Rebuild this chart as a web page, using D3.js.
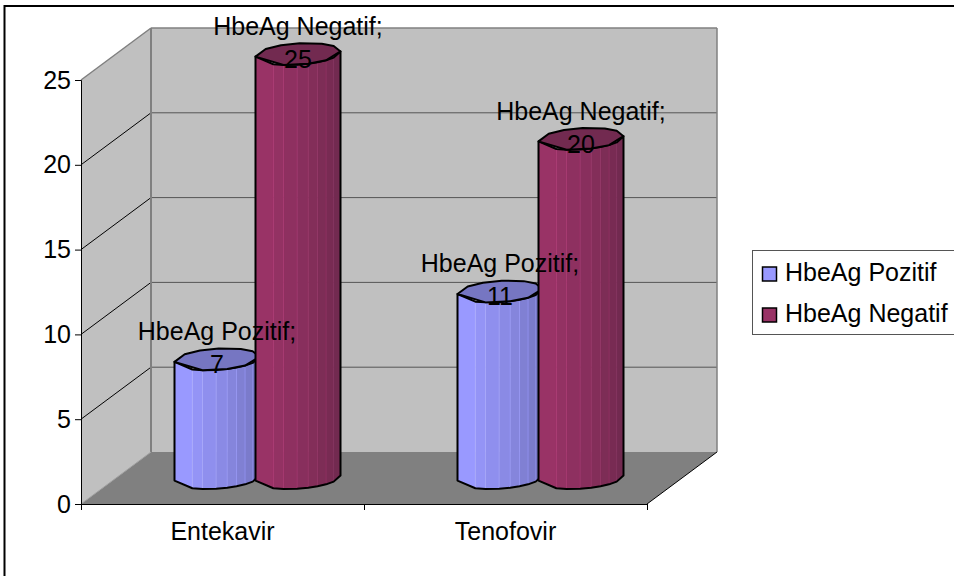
<!DOCTYPE html>
<html><head><meta charset="utf-8">
<script src="https://cdn.jsdelivr.net/npm/d3@7"></script>
<style>html,body{margin:0;padding:0;background:#fff;overflow:hidden}svg{display:block}text{font-family:"Liberation Sans",Arial,sans-serif;fill:#000}</style>
</head><body><svg id="c" width="954" height="576"></svg>
<script>
const categories = ["Entekavir", "Tenofovir"];
const seriesNames = ["HbeAg Pozitif", "HbeAg Negatif"];
const pozitif = [7, 11];
const negatif = [25, 20];
const yTicks = [0, 5, 10, 15, 20, 25];
const seriesColors = ["#9999ff", "#993366"];
const seriesDark = ["#7676c2", "#722a50"];

const svg = d3.select("#c");
const FS = 25;
const frontL = 81, frontR = 647, dx = 70, dy = 52;
const y = d3.scaleLinear().domain([0, 25]).range([504, 80]);
const x0 = d3.scaleBand().domain(categories).range([frontL, frontR]);

svg.append("rect").attr("x", 4.5).attr("y", 6).attr("width", 980).attr("height", 600).attr("fill", "#fff").attr("stroke", "#000").attr("stroke-width", 2);

const top0 = y(25), base = y(0);
const poly = (pts, fill) => svg.append("polygon").attr("points", pts.map(p => p.join(",")).join(" ")).attr("fill", fill).attr("stroke", "none");
poly([[frontL + dx, top0 - dy], [frontR + dx, top0 - dy], [frontR + dx, base - dy], [frontL + dx, base - dy]], "#c0c0c0");
poly([[frontL, top0], [frontL + dx, top0 - dy], [frontL + dx, base - dy], [frontL, base]], "#c0c0c0");
poly([[frontL, base], [frontL + dx, base - dy], [frontR + dx, base - dy], [frontR, base]], "#808080");

const ln = (a, b, c, w) => svg.append("line").attr("x1", a[0]).attr("y1", a[1]).attr("x2", b[0]).attr("y2", b[1]).attr("stroke", c).attr("stroke-width", w);
yTicks.forEach(t => {
  const v = y(t);
  if (t > 0 && t < 25) {
    ln([frontL + dx, v - dy], [frontR + dx, v - dy], "#555", 1);
    ln([frontL, v], [frontL + dx, v - dy], "#000", 1);
  }
});
ln([frontL + dx, top0 - dy], [frontR + dx, top0 - dy], "#808080", 1.5);
ln([frontL, top0], [frontL + dx, top0 - dy], "#808080", 1.5);
ln([frontL + dx, top0 - dy], [frontL + dx, base - dy], "#808080", 2);
ln([frontR + dx, top0 - dy], [frontR + dx, base - dy], "#808080", 1.5);
ln([frontL, base], [frontL + dx, base - dy], "#a0a0a0", 1);
ln([frontR, base], [frontR + dx, base - dy], "#000", 1);

// axes
const yAxis = d3.axisLeft(y).tickValues(yTicks).tickSize(6).tickPadding(3);
const gy = svg.append("g").attr("transform", `translate(${frontL},0)`).call(yAxis);
gy.select(".domain").attr("stroke", "#000");
gy.selectAll("text").attr("font-size", FS).attr("dx", -1).style("font-family", '"Liberation Sans",Arial,sans-serif');
ln([frontL, base + .5], [frontR, base + .5], "#000", 1.2);
[frontL, (frontL + frontR) / 2, frontR].forEach(px => ln([Math.round(px) + .5, base], [Math.round(px) + .5, base + 6], "#000", 1));
categories.forEach(c => svg.append("text").attr("x", x0(c) + x0.bandwidth() / 2).attr("y", 540).attr("text-anchor", "middle").attr("font-size", FS).text(c));

// cylinders
const R = 42.5, skew = 10, minor = 11, off = 40.5;
const facetStops = [0, .21, .33, .49, .62, .73, .83, .92, 1];
const cyl = (cx, v, si) => {
  const cy = y(0) - dy / 2, ty = y(v) - dy / 2;
  const a = Math.sqrt(R * R - skew * skew);
  const pt = (t, yy) => [cx + a * Math.cos(t) + skew * Math.sin(t), yy - minor * Math.sin(t)];
  const tL = Math.PI + Math.atan(skew / a);
  const ts = facetStops.map(f => tL + Math.acos(1 - 2 * f));
  const n = ts.length - 1;
  const col = d3.scaleLinear().domain([0, n - 1]).range([seriesColors[si], seriesDark[si]]);
  const g = svg.append("g");
  const path = d3.line();
  for (let i = 0; i < n; i++) {
    const p = [pt(ts[i], ty), pt(ts[i + 1], ty), pt(ts[i + 1], cy), pt(ts[i], cy)];
    g.append("path").attr("d", path(p) + "Z").attr("fill", col(i)).attr("stroke", col(i)).attr("stroke-width", .5);
    if (i > 0) {
      const q = [pt(ts[i], ty), pt(ts[i], cy)];
      g.append("path").attr("d", path(q)).attr("stroke", d3.color(col(i)).brighter(.6)).attr("stroke-width", .7).attr("fill", "none");
    }
  }
  const outline = ts.map(t => pt(t, cy)).reverse();
  const topFront = ts.map(t => pt(t, ty));
  g.append("path").attr("d", path([...topFront, ...outline]) + "Z").attr("fill", "none").attr("stroke", "#000").attr("stroke-width", 2).attr("stroke-linejoin", "round");
  const backStops = [.12, .3, .52, .78, .92];
  const backTs = backStops.map(f => tL - Math.acos(1 - 2 * f));
  const ring = [...ts.filter((t, i) => i % 2 === 0), ...backTs.reverse().map(t => t + 2 * Math.PI)];
  g.append("path").attr("d", path(ring) + "Z").attr("fill", seriesDark[si]).attr("stroke", "#000").attr("stroke-width", 2).attr("stroke-linejoin", "round")
    .attr("d", path(ring.map(t => pt(t, ty))) + "Z");
};
categories.forEach((c, i) => {
  const mid = x0(c) + x0.bandwidth() / 2 + dx / 2;
  cyl(mid - off, pozitif[i], 0);
  cyl(mid + off, negatif[i], 1);
});
// labels
categories.forEach((c, i) => {
  const mid = x0(c) + x0.bandwidth() / 2 + dx / 2;
  [[pozitif[i], 0, -off], [negatif[i], 1, off]].forEach(([v, si, o]) => {
    const ty = y(v) - dy / 2;
    svg.append("text").attr("x", mid + o).attr("y", ty - 19).attr("text-anchor", "middle").attr("font-size", FS).text(seriesNames[si] + ";");
    svg.append("text").attr("x", mid + o).attr("y", ty + 14).attr("text-anchor", "middle").attr("font-size", FS).text(v);
  });
});

// legend
svg.append("rect").attr("x", 752.5).attr("y", 250.5).attr("width", 230).attr("height", 84).attr("fill", "#fff").attr("stroke", "#555");
seriesNames.forEach((s, i) => {
  const yy = 274 + i * 41;
  svg.append("rect").attr("x", 762.5).attr("y", yy - 7).attr("width", 14).attr("height", 14).attr("fill", seriesColors[i]).attr("stroke", "#000").attr("stroke-width", 1.5);
  svg.append("text").attr("x", 785).attr("y", yy + 7).attr("font-size", FS).text(s);
});
</script></body></html>
